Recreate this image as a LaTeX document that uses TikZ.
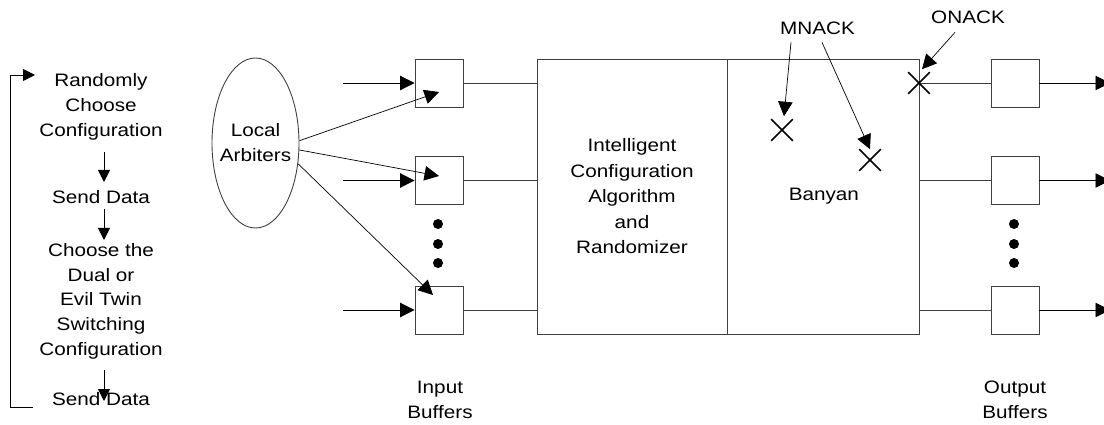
\documentclass[tikz,border=0pt]{standalone}
\usepackage{fontspec}
\setmainfont[FakeStretch=1.15]{Liberation Sans}
\usetikzlibrary{arrows.meta,shapes.geometric,shapes.misc,calc}
\colorlet{lc}{black!75}
\begin{document}
\begin{tikzpicture}[x=1pt,y=-1pt,
  every node/.style={font=\fontsize{18}{25}\selectfont},
  txt/.style={align=center,inner sep=0pt},
  arr/.style={draw=black,line width=0.9pt,-{Triangle[length=14.5pt,width=14.5pt]}},
  sarr/.style={draw=black,line width=0.9pt,-{Triangle[length=12pt,width=12pt]}},
  ln/.style={draw=lc,line width=0.9pt},
  buf/.style={draw=lc,line width=0.9pt,minimum size=48pt,inner sep=0pt},
  bigbox/.style={draw=lc,line width=0.9pt,minimum height=275pt,inner sep=0pt,align=center},
  xmark/.style={cross out,draw=black,line width=1.6pt,minimum size=20pt,inner sep=0pt},
  dotn/.style={circle,fill=black,minimum size=10pt,inner sep=0pt}
]
\useasboundingbox (0,0) rectangle (1104,425);

% left flow
\node[txt,anchor=north] (n1) at (101,73) {Randomly\\Choose\\Configuration};
\node[txt,anchor=north] (n2) at (101,190) {Send Data};
\node[txt,anchor=north,font=\fontsize{18}{24.8}\selectfont] (n3) at (101,243) {Choose the\\Dual or\\Evil Twin\\Switching\\Configuration};
\node[txt,anchor=north] (n4) at (101,392) {Send Data};
\draw[sarr,shorten <=12pt,shorten >=8pt] ([xshift=3pt]n1.south) -- ([xshift=3pt]n2.north);
\draw[sarr,shorten <=5pt,shorten >=3pt] ([xshift=3pt]n2.south) -- ([xshift=3pt]n3.north);
\draw[sarr,shorten <=11pt,shorten >=-9pt] ([xshift=3pt]n3.south) -- ([xshift=3pt]n4.north);
\coordinate (lb) at (33,407);
\coordinate (lbc) at (10,407);
\coordinate (ltc) at (10,75);
\coordinate (lt) at (35,75);
\draw[sarr] (lb) -- (lbc) -- (ltc) -- (lt);

% local arbiters
\node[draw=lc,line width=0.9pt,ellipse,minimum width=87pt,minimum height=170pt,inner sep=0pt] (la) at (255.5,143) {};
\node[txt] (lat) at (la.center) {Local\\Arbiters};

% input buffers
\node[buf] (ib1) at (439,83) {};
\node[buf] (ib2) at (439,180.5) {};
\node[buf] (ib3) at (439,310) {};
\coordinate (s1) at (343,83);
\coordinate (s2) at (343,180.5);
\coordinate (s3) at (343,310);
\draw[arr] (s1) -- (ib1.west);
\draw[arr] (s2) -- (ib2.west);
\draw[arr] (s3) -- (ib3.west);
\node[dotn] (di1) at (438,224) {};
\node[dotn] (di2) at (438,244) {};
\node[dotn] (di3) at (438,263) {};

\coordinate (t1) at ($(ib1.center)+(0,9)$);
\coordinate (t2) at ($(ib2.center)+(0,-4.5)$);
\coordinate (t3) at ($(ib3.center)+(-6,-15)$);
\draw[arr,line width=0.7pt] (la.3) -- (t1);
\draw[arr,line width=0.7pt] (la.-9) -- (t2);
\draw[arr,line width=0.7pt] (la.-26) -- (t3);

% big boxes
\node[bigbox,minimum width=190pt,font=\fontsize{18}{25.5}\selectfont] (ic) at (632,196.5) {Intelligent\\Configuration\\Algorithm\\and\\Randomizer};
\node[bigbox,minimum width=192pt,anchor=west] (ban) at (ic.east) {Banyan};
\draw[ln] (ib1.east) -- (ib1.east -| ic.west);
\draw[ln] (ib2.east) -- (ib2.east -| ic.west);
\draw[ln] (ib3.east) -- (ib3.east -| ic.west);

% output buffers
\node[buf] (ob1) at (1015,83) {};
\node[buf] (ob2) at (1015,180.5) {};
\node[buf] (ob3) at (1015,310) {};
\coordinate (oend) at (1110,0);
\draw[ln] (ob1.west -| ban.east) -- (ob1.west);
\draw[ln] (ob2.west -| ban.east) -- (ob2.west);
\draw[ln] (ob3.west -| ban.east) -- (ob3.west);
\draw[arr] (ob1.east) -- (ob1.east -| oend);
\draw[arr] (ob2.east) -- (ob2.east -| oend);
\draw[arr] (ob3.east) -- (ob3.east -| oend);
\node[dotn] (do1) at (1014,224) {};
\node[dotn] (do2) at (1014,244) {};
\node[dotn] (do3) at (1014,263) {};

% NACK marks
\node[xmark] (x1) at (782,130) {};
\node[xmark] (x2) at (870,160) {};
\node[xmark] (x3) at (919,83) {};
\node[anchor=base,inner sep=0pt] (mn) at (817.5,35) {MNACK};
\node[anchor=base,inner sep=0pt] (on) at (968,24) {ONACK};
\draw[arr,line width=0.7pt] ([xshift=-26.5pt,yshift=-7pt]mn.south) -- ([xshift=2pt,yshift=3pt]x1.north);
\draw[arr,line width=0.7pt] ([xshift=4.5pt,yshift=-7pt]mn.south) -- (x2.north);
\draw[arr,line width=0.7pt] ([xshift=-13pt,yshift=-8pt]on.south) -- ([xshift=3pt,yshift=3pt]x3.north);

% labels
\node[txt,anchor=north] (inb) at (440,381) {Input\\Buffers};
\node[txt,anchor=north] (outb) at (1015,381) {Output\\Buffers};
\end{tikzpicture}
\end{document}
